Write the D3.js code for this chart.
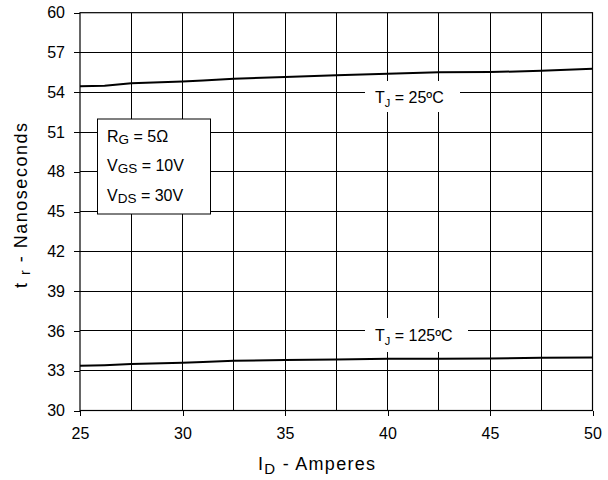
<!DOCTYPE html>
<html>
<head>
<meta charset="utf-8">
<script src="https://cdn.jsdelivr.net/npm/d3@7"></script>
<style>
  html, body { margin: 0; padding: 0; background: #fff; }
  svg { display: block; font-family: "Liberation Sans", Arial, sans-serif; }
</style>
</head>
<body>
<svg id="chart" width="608" height="480"></svg>
<script>
// Rise time vs drain current
const currents = [25, 26.2, 27.5, 30, 31, 32.5, 35, 37.5, 40, 42.5, 45, 47.5, 50];
const rise25C  = [54.45, 54.5, 54.68, 54.82, 54.88, 55.02, 55.15, 55.28, 55.4, 55.5, 55.52, 55.62, 55.78];
const rise125C = [33.37, 33.42, 33.5, 33.6, 33.65, 33.75, 33.8, 33.85, 33.9, 33.9, 33.92, 33.98, 34.0];
const xTicks = [25, 30, 35, 40, 45, 50];
const xGrid  = [27.5, 30, 32.5, 35, 37.5, 40, 42.5, 45, 47.5];
const yTicks = [30, 33, 36, 39, 42, 45, 48, 51, 54, 57, 60];
const conditions = [
  { main: "R", sub: "G", rest: " = 5\u03A9" },
  { main: "V", sub: "GS", rest: " = 10V" },
  { main: "V", sub: "DS", rest: " = 30V" }
];

const FONT = "Liberation Sans, Arial, sans-serif";
const svg = d3.select("#chart");
const L = 80, R = 592.5, T = 12.7, B = 410.5;
const x = d3.scaleLinear().domain([25, 50]).range([L, R]);
const y = d3.scaleLinear().domain([30, 60]).range([B, T]);

// grid
svg.append("g").selectAll("line").data(xGrid).join("line")
  .attr("x1", d => x(d)).attr("x2", d => x(d)).attr("y1", T).attr("y2", B)
  .attr("stroke", "#000").attr("stroke-width", 1).attr("shape-rendering", "crispEdges");
svg.append("g").selectAll("line").data(yTicks.slice(1, -1)).join("line")
  .attr("x1", L).attr("x2", R).attr("y1", d => y(d)).attr("y2", d => y(d))
  .attr("stroke", "#000").attr("stroke-width", 1).attr("shape-rendering", "crispEdges");

// axes
const yAxis = d3.axisLeft(y).tickValues(yTicks).tickSize(6).tickPadding(9);
const gy = svg.append("g").attr("transform", `translate(${L},0)`).call(yAxis);
const xAxis = d3.axisBottom(x).tickValues(xTicks).tickSize(5).tickPadding(12.5);
const gx = svg.append("g").attr("transform", `translate(0,${B})`).call(xAxis);
[gx, gy].forEach(g => {
  g.attr("font-size", 16).attr("font-family", FONT);
  g.select(".domain").remove();
  g.selectAll("line").attr("stroke", "#000").attr("shape-rendering", "crispEdges");
  g.selectAll("text").attr("fill", "#000");
});

// plot frame
svg.append("rect").attr("x", L).attr("y", T).attr("width", R - L).attr("height", B - T)
  .attr("fill", "none").attr("stroke", "#000").attr("stroke-width", 1.2);

// curves
const line = d3.line().x((d, i) => x(currents[i])).y(d => y(d)).curve(d3.curveLinear);
[rise25C, rise125C].forEach(s => {
  svg.append("path").attr("d", line(s)).attr("fill", "none")
    .attr("stroke", "#000").attr("stroke-width", 2).attr("stroke-linejoin", "round");
});

// curve labels
function curveLabel(cx, cy, w, h, temp) {
  svg.append("rect").attr("x", cx).attr("y", cy).attr("width", w).attr("height", h).attr("fill", "#fff");
  const t = svg.append("text").attr("x", cx + 10).attr("y", cy + h / 2 + 6)
    .attr("font-size", 16).attr("fill", "#000");
  t.append("tspan").text("T");
  t.append("tspan").attr("font-size", 11).attr("dy", 4).text("J");
  t.append("tspan").attr("dy", -4).text(" = " + temp + "\u00BAC");
}
curveLabel(365, 81, 95, 31, 25);
curveLabel(365, 318, 103, 34, 125);

// test conditions box
svg.append("rect").attr("x", 97.5).attr("y", 119).attr("width", 113).attr("height", 95)
  .attr("fill", "#fff").attr("stroke", "#000").attr("stroke-width", 1);
conditions.forEach((c, i) => {
  const t = svg.append("text").attr("x", 107).attr("y", 142 + i * 29.3)
    .attr("font-size", 16).attr("fill", "#000");
  t.append("tspan").text(c.main);
  t.append("tspan").attr("font-size", 13.5).attr("dy", 2).text(c.sub);
  t.append("tspan").attr("dy", -2).text(c.rest);
});

// axis titles
const xt = svg.append("text").attr("x", 258).attr("y", 470)
  .attr("font-size", 18).attr("fill", "#000")
  .attr("textLength", 117).attr("lengthAdjust", "spacing");
xt.append("tspan").text("I");
xt.append("tspan").attr("font-size", 15).attr("dy", 4).text("D");
xt.append("tspan").attr("dy", -4).text(" - Amperes");

const yt = svg.append("text").attr("transform", "translate(27,288) rotate(-90)")
  .attr("font-size", 18).attr("fill", "#000")
  .attr("textLength", 165).attr("lengthAdjust", "spacing");
yt.append("tspan").text("t ");
yt.append("tspan").attr("font-size", 14).attr("dy", 3).text("r");
yt.append("tspan").attr("dy", -3).text(" - Nanoseconds");
</script>
</body>
</html>
